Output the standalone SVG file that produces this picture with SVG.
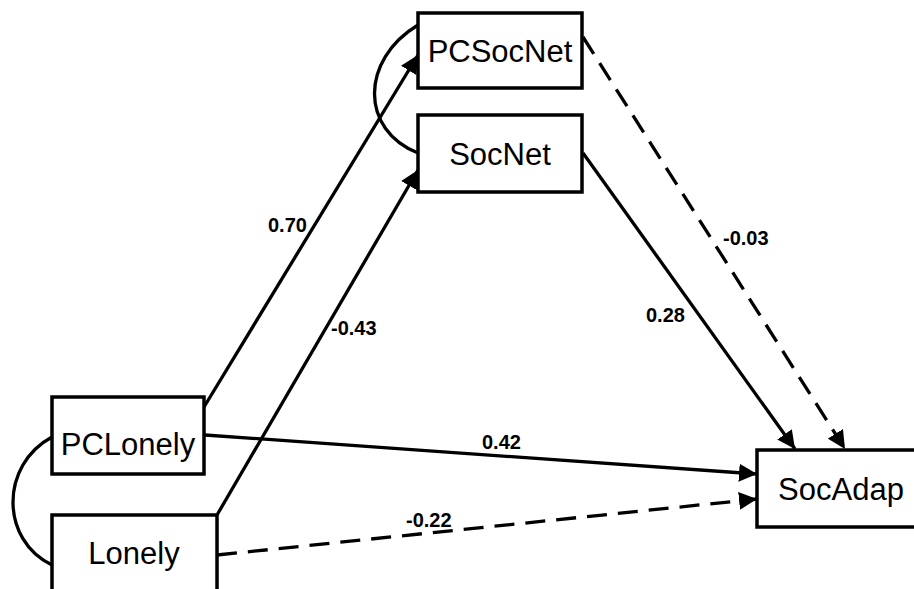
<svg xmlns="http://www.w3.org/2000/svg" width="914" height="589" viewBox="0 0 914 589">
<style>
.box{fill:#fff;stroke:#000;stroke-width:3.5}
.nt{font-family:"Liberation Sans",Arial,sans-serif;font-size:31px;fill:#000;text-anchor:middle}
.e{fill:none;stroke:#000;stroke-width:3.3}
.d{stroke-dasharray:20 11}
.lb{font-family:"Liberation Sans",Arial,sans-serif;font-size:20px;font-weight:bold;fill:#000}
</style>
<defs>
<marker id="ah" markerUnits="userSpaceOnUse" markerWidth="20" markerHeight="18" refX="18" refY="9" orient="auto" viewBox="0 0 20 18">
<path d="M0,0 L18,9 L0,18 Z" fill="#000"/>
</marker>
</defs>
<rect width="914" height="589" fill="#fff"/>
<g id="connectors">
<path class="e" d="M418,25 C360,60 360,130 418,153"/>
<path class="e" d="M52,437 C0,465 0,540 52,565"/>
<path class="e" d="M204,407 L418,55" marker-end="url(#ah)"/>
<path class="e" d="M217,515 L418,170" marker-end="url(#ah)"/>
<path class="e" d="M583,153 L795,449" marker-end="url(#ah)"/>
<path class="e d" d="M583,37 L845,449" marker-end="url(#ah)"/>
<path class="e" d="M205,435 L757,474" marker-end="url(#ah)"/>
<path class="e d" d="M217,555 L757,499" marker-end="url(#ah)"/>
<text class="lb" x="268" y="232">0.70</text>
<text class="lb" x="331" y="335">-0.43</text>
<text class="lb" x="646" y="322">0.28</text>
<text class="lb" x="723" y="245">-0.03</text>
<text class="lb" x="482" y="449">0.42</text>
<text class="lb" x="406" y="527">-0.22</text>
</g>
<g id="PCSocNet"><rect class="box" x="418" y="13" width="164" height="75"/><text class="nt" x="500" y="62">PCSocNet</text></g>
<g id="SocNet"><rect class="box" x="418" y="115" width="164" height="77"/><text class="nt" x="500" y="165">SocNet</text></g>
<g id="PCLonely"><rect class="box" x="52" y="397" width="152" height="77"/><text class="nt" x="128" y="455">PCLonely</text></g>
<g id="Lonely"><rect class="box" x="52" y="515" width="165" height="90"/><text class="nt" x="134" y="564">Lonely</text></g>
<g id="SocAdap"><rect class="box" x="757" y="450" width="168" height="77"/><text class="nt" x="841" y="500">SocAdap</text></g>
</svg>
